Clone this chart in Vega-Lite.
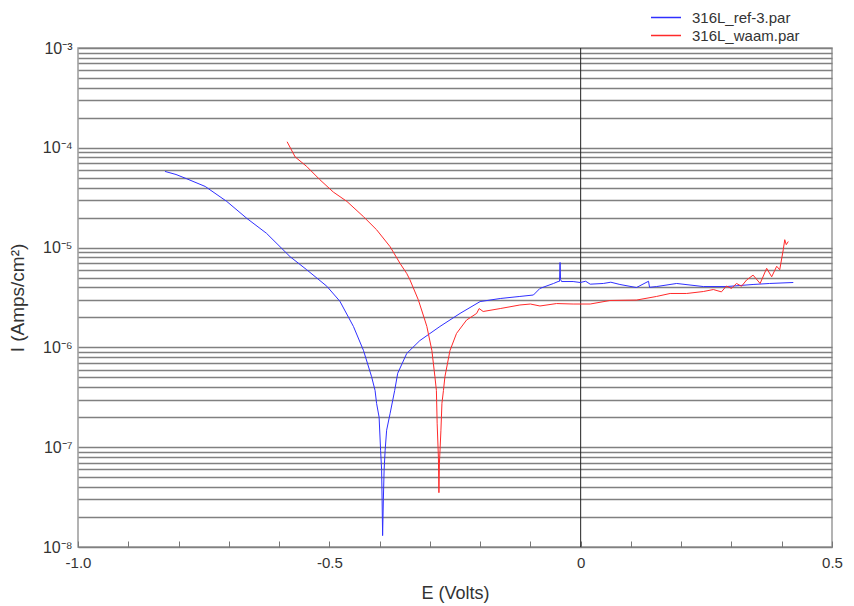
{
  "$schema": "https://vega.github.io/schema/vega-lite/v6.json",
  "width": 754,
  "height": 499,
  "autosize": {"type": "none"},
  "padding": {"left": 78, "top": 48, "right": 22, "bottom": 59},
  "config": {"font": "Liberation Sans", "view": {"stroke": "#9a9a9a", "strokeWidth": 1.5}},
  "datasets": {
    "curves": [
      {"s": "316L_ref-3.par", "i": 1, "E": -0.827, "I": 5.8e-5},
      {"s": "316L_ref-3.par", "i": 2, "E": -0.805, "I": 5.4e-5},
      {"s": "316L_ref-3.par", "i": 3, "E": -0.784, "I": 4.9e-5},
      {"s": "316L_ref-3.par", "i": 4, "E": -0.747, "I": 4.1e-5},
      {"s": "316L_ref-3.par", "i": 5, "E": -0.704, "I": 2.9e-5},
      {"s": "316L_ref-3.par", "i": 6, "E": -0.664, "I": 1.96e-5},
      {"s": "316L_ref-3.par", "i": 7, "E": -0.625, "I": 1.39e-5},
      {"s": "316L_ref-3.par", "i": 8, "E": -0.578, "I": 8.1e-6},
      {"s": "316L_ref-3.par", "i": 9, "E": -0.545, "I": 6.0e-6},
      {"s": "316L_ref-3.par", "i": 10, "E": -0.505, "I": 4.1e-6},
      {"s": "316L_ref-3.par", "i": 11, "E": -0.479, "I": 2.9e-6},
      {"s": "316L_ref-3.par", "i": 12, "E": -0.452, "I": 1.62e-6},
      {"s": "316L_ref-3.par", "i": 13, "E": -0.432, "I": 9.3e-7},
      {"s": "316L_ref-3.par", "i": 14, "E": -0.416, "I": 5.1e-7},
      {"s": "316L_ref-3.par", "i": 15, "E": -0.409, "I": 3.7e-7},
      {"s": "316L_ref-3.par", "i": 16, "E": -0.406, "I": 2.75e-7},
      {"s": "316L_ref-3.par", "i": 17, "E": -0.401, "I": 2.0e-7},
      {"s": "316L_ref-3.par", "i": 18, "E": -0.398, "I": 9.3e-8},
      {"s": "316L_ref-3.par", "i": 19, "E": -0.396, "I": 5.9e-8},
      {"s": "316L_ref-3.par", "i": 20, "E": -0.395, "I": 2.9e-8},
      {"s": "316L_ref-3.par", "i": 21, "E": -0.394, "I": 1.3e-8},
      {"s": "316L_ref-3.par", "i": 22, "E": -0.3925, "I": 3.0e-8},
      {"s": "316L_ref-3.par", "i": 23, "E": -0.391, "I": 5.9e-8},
      {"s": "316L_ref-3.par", "i": 24, "E": -0.389, "I": 9.3e-8},
      {"s": "316L_ref-3.par", "i": 25, "E": -0.386, "I": 1.48e-7},
      {"s": "316L_ref-3.par", "i": 26, "E": -0.379, "I": 2.19e-7},
      {"s": "316L_ref-3.par", "i": 27, "E": -0.370, "I": 3.7e-7},
      {"s": "316L_ref-3.par", "i": 28, "E": -0.364, "I": 5.5e-7},
      {"s": "316L_ref-3.par", "i": 29, "E": -0.346, "I": 8.7e-7},
      {"s": "316L_ref-3.par", "i": 30, "E": -0.320, "I": 1.17e-6},
      {"s": "316L_ref-3.par", "i": 31, "E": -0.280, "I": 1.62e-6},
      {"s": "316L_ref-3.par", "i": 32, "E": -0.240, "I": 2.19e-6},
      {"s": "316L_ref-3.par", "i": 33, "E": -0.200, "I": 2.88e-6},
      {"s": "316L_ref-3.par", "i": 34, "E": -0.160, "I": 3.09e-6},
      {"s": "316L_ref-3.par", "i": 35, "E": -0.121, "I": 3.24e-6},
      {"s": "316L_ref-3.par", "i": 36, "E": -0.094, "I": 3.35e-6},
      {"s": "316L_ref-3.par", "i": 37, "E": -0.081, "I": 3.9e-6},
      {"s": "316L_ref-3.par", "i": 38, "E": -0.054, "I": 4.37e-6},
      {"s": "316L_ref-3.par", "i": 39, "E": -0.045, "I": 4.57e-6},
      {"s": "316L_ref-3.par", "i": 40, "E": -0.042, "I": 4.6e-6},
      {"s": "316L_ref-3.par", "i": 41, "E": -0.041, "I": 7.1e-6},
      {"s": "316L_ref-3.par", "i": 42, "E": -0.040, "I": 4.8e-6},
      {"s": "316L_ref-3.par", "i": 43, "E": -0.038, "I": 4.57e-6},
      {"s": "316L_ref-3.par", "i": 44, "E": -0.015, "I": 4.57e-6},
      {"s": "316L_ref-3.par", "i": 45, "E": -0.001, "I": 4.47e-6},
      {"s": "316L_ref-3.par", "i": 46, "E": 0.010, "I": 4.6e-6},
      {"s": "316L_ref-3.par", "i": 47, "E": 0.019, "I": 4.3e-6},
      {"s": "316L_ref-3.par", "i": 48, "E": 0.045, "I": 4.37e-6},
      {"s": "316L_ref-3.par", "i": 49, "E": 0.060, "I": 4.5e-6},
      {"s": "316L_ref-3.par", "i": 50, "E": 0.078, "I": 4.27e-6},
      {"s": "316L_ref-3.par", "i": 51, "E": 0.111, "I": 3.98e-6},
      {"s": "316L_ref-3.par", "i": 52, "E": 0.135, "I": 4.6e-6},
      {"s": "316L_ref-3.par", "i": 53, "E": 0.137, "I": 4.0e-6},
      {"s": "316L_ref-3.par", "i": 54, "E": 0.151, "I": 4.07e-6},
      {"s": "316L_ref-3.par", "i": 55, "E": 0.191, "I": 4.37e-6},
      {"s": "316L_ref-3.par", "i": 56, "E": 0.244, "I": 4.07e-6},
      {"s": "316L_ref-3.par", "i": 57, "E": 0.290, "I": 4.07e-6},
      {"s": "316L_ref-3.par", "i": 58, "E": 0.343, "I": 4.27e-6},
      {"s": "316L_ref-3.par", "i": 59, "E": 0.376, "I": 4.37e-6},
      {"s": "316L_ref-3.par", "i": 60, "E": 0.423, "I": 4.47e-6},
      {"s": "316L_waam.par", "i": 1, "E": -0.584, "I": 1.15e-4},
      {"s": "316L_waam.par", "i": 2, "E": -0.568, "I": 8.1e-5},
      {"s": "316L_waam.par", "i": 3, "E": -0.545, "I": 6.5e-5},
      {"s": "316L_waam.par", "i": 4, "E": -0.519, "I": 4.8e-5},
      {"s": "316L_waam.par", "i": 5, "E": -0.492, "I": 3.6e-5},
      {"s": "316L_waam.par", "i": 6, "E": -0.465, "I": 2.9e-5},
      {"s": "316L_waam.par", "i": 7, "E": -0.432, "I": 2.04e-5},
      {"s": "316L_waam.par", "i": 8, "E": -0.406, "I": 1.51e-5},
      {"s": "316L_waam.par", "i": 9, "E": -0.379, "I": 1.02e-5},
      {"s": "316L_waam.par", "i": 10, "E": -0.359, "I": 6.9e-6},
      {"s": "316L_waam.par", "i": 11, "E": -0.346, "I": 5.5e-6},
      {"s": "316L_waam.par", "i": 12, "E": -0.340, "I": 4.8e-6},
      {"s": "316L_waam.par", "i": 13, "E": -0.323, "I": 3.0e-6},
      {"s": "316L_waam.par", "i": 14, "E": -0.310, "I": 1.88e-6},
      {"s": "316L_waam.par", "i": 15, "E": -0.306, "I": 1.62e-6},
      {"s": "316L_waam.par", "i": 16, "E": -0.296, "I": 9.3e-7},
      {"s": "316L_waam.par", "i": 17, "E": -0.290, "I": 5.1e-7},
      {"s": "316L_waam.par", "i": 18, "E": -0.287, "I": 3.7e-7},
      {"s": "316L_waam.par", "i": 19, "E": -0.2855, "I": 1.74e-7},
      {"s": "316L_waam.par", "i": 20, "E": -0.283, "I": 7.9e-8},
      {"s": "316L_waam.par", "i": 21, "E": -0.282, "I": 3.5e-8},
      {"s": "316L_waam.par", "i": 22, "E": -0.281, "I": 6.9e-8},
      {"s": "316L_waam.par", "i": 23, "E": -0.278, "I": 1.48e-7},
      {"s": "316L_waam.par", "i": 24, "E": -0.276, "I": 2.75e-7},
      {"s": "316L_waam.par", "i": 25, "E": -0.273, "I": 3.7e-7},
      {"s": "316L_waam.par", "i": 26, "E": -0.270, "I": 5.1e-7},
      {"s": "316L_waam.par", "i": 27, "E": -0.260, "I": 9.3e-7},
      {"s": "316L_waam.par", "i": 28, "E": -0.247, "I": 1.38e-6},
      {"s": "316L_waam.par", "i": 29, "E": -0.227, "I": 1.88e-6},
      {"s": "316L_waam.par", "i": 30, "E": -0.207, "I": 2.19e-6},
      {"s": "316L_waam.par", "i": 31, "E": -0.202, "I": 2.45e-6},
      {"s": "316L_waam.par", "i": 32, "E": -0.194, "I": 2.29e-6},
      {"s": "316L_waam.par", "i": 33, "E": -0.160, "I": 2.45e-6},
      {"s": "316L_waam.par", "i": 34, "E": -0.121, "I": 2.66e-6},
      {"s": "316L_waam.par", "i": 35, "E": -0.100, "I": 2.72e-6},
      {"s": "316L_waam.par", "i": 36, "E": -0.081, "I": 2.6e-6},
      {"s": "316L_waam.par", "i": 37, "E": -0.048, "I": 2.75e-6},
      {"s": "316L_waam.par", "i": 38, "E": -0.015, "I": 2.72e-6},
      {"s": "316L_waam.par", "i": 39, "E": 0.019, "I": 2.72e-6},
      {"s": "316L_waam.par", "i": 40, "E": 0.058, "I": 2.95e-6},
      {"s": "316L_waam.par", "i": 41, "E": 0.111, "I": 2.98e-6},
      {"s": "316L_waam.par", "i": 42, "E": 0.151, "I": 3.24e-6},
      {"s": "316L_waam.par", "i": 43, "E": 0.178, "I": 3.47e-6},
      {"s": "316L_waam.par", "i": 44, "E": 0.211, "I": 3.47e-6},
      {"s": "316L_waam.par", "i": 45, "E": 0.244, "I": 3.63e-6},
      {"s": "316L_waam.par", "i": 46, "E": 0.264, "I": 3.8e-6},
      {"s": "316L_waam.par", "i": 47, "E": 0.280, "I": 3.6e-6},
      {"s": "316L_waam.par", "i": 48, "E": 0.290, "I": 4.12e-6},
      {"s": "316L_waam.par", "i": 49, "E": 0.300, "I": 3.9e-6},
      {"s": "316L_waam.par", "i": 50, "E": 0.310, "I": 4.37e-6},
      {"s": "316L_waam.par", "i": 51, "E": 0.320, "I": 4.1e-6},
      {"s": "316L_waam.par", "i": 52, "E": 0.330, "I": 4.73e-6},
      {"s": "316L_waam.par", "i": 53, "E": 0.343, "I": 5.3e-6},
      {"s": "316L_waam.par", "i": 54, "E": 0.357, "I": 4.37e-6},
      {"s": "316L_waam.par", "i": 55, "E": 0.370, "I": 6.2e-6},
      {"s": "316L_waam.par", "i": 56, "E": 0.380, "I": 5.1e-6},
      {"s": "316L_waam.par", "i": 57, "E": 0.390, "I": 6.5e-6},
      {"s": "316L_waam.par", "i": 58, "E": 0.396, "I": 6.0e-6},
      {"s": "316L_waam.par", "i": 59, "E": 0.403, "I": 9.5e-6},
      {"s": "316L_waam.par", "i": 60, "E": 0.406, "I": 1.2e-5},
      {"s": "316L_waam.par", "i": 61, "E": 0.409, "I": 1.07e-5},
      {"s": "316L_waam.par", "i": 62, "E": 0.413, "I": 1.15e-5}
    ]
  },
  "encoding": {
    "x": {
      "field": "E",
      "type": "quantitative",
      "scale": {"domain": [-1, 0.5], "nice": false, "zero": false},
      "axis": {
        "title": "E (Volts)",
        "titleFontSize": 18,
        "titleFontWeight": "normal",
        "titleColor": "#333",
        "titlePadding": 14,
        "values": [-1, -0.9, -0.8, -0.7, -0.6, -0.5, -0.4, -0.3, -0.2, -0.1, 0, 0.1, 0.2, 0.3, 0.4, 0.5],
        "labelExpr": "datum.value == -1 ? '-1.0' : datum.value == -0.5 ? '-0.5' : datum.value == 0 ? '0' : datum.value == 0.5 ? '0.5' : ''",
        "labelFontSize": 15,
        "labelColor": "#333",
        "labelPadding": 14,
        "labelFlush": false,
        "labelOverlap": false,
        "tickSize": -6,
        "tickColor": "#777",
        "domain": false,
        "grid": false
      }
    }
  },
  "layer": [
    {
      "data": {"values": [{"E": 0}]},
      "mark": {"type": "rule", "color": "#222", "strokeWidth": 1}
    },
    {
      "data": {"name": "curves"},
      "mark": {"type": "line", "strokeWidth": 1},
      "encoding": {
        "y": {
          "field": "I",
          "type": "quantitative",
          "scale": {"type": "log", "domain": [1e-8, 1e-3], "nice": false},
          "axis": {
            "title": "I (Amps/cm²)",
            "titleFontSize": 19,
            "titleFontWeight": "normal",
            "titleColor": "#333",
            "titlePadding": 15,
            "values": [1e-8, 2e-8, 3e-8, 4e-8, 5e-8, 6e-8, 7e-8, 8e-8, 9e-8, 1e-7, 2e-7, 3e-7, 4e-7, 5e-7, 6e-7, 7e-7, 8e-7, 9e-7, 1e-6, 2e-6, 3e-6, 4e-6, 5e-6, 6e-6, 7e-6, 8e-6, 9e-6, 1e-5, 2e-5, 3e-5, 4e-5, 5e-5, 6e-5, 7e-5, 8e-5, 9e-5, 1e-4, 2e-4, 3e-4, 4e-4, 5e-4, 6e-4, 7e-4, 8e-4, 9e-4, 1e-3],
            "labelExpr": "abs(datum.value / pow(10, round(log(datum.value) / LN10)) - 1) < 1e-6 ? '10' + ['⁻⁸', '⁻⁷', '⁻⁶', '⁻⁵', '⁻⁴', '⁻³'][round(log(datum.value) / LN10) + 8] : ''",
            "labelFontSize": 16,
            "labelColor": "#333",
            "labelPadding": 6,
            "labelFlush": false,
            "labelOverlap": false,
            "ticks": false,
            "domain": false,
            "grid": true,
            "gridColor": "#808080",
            "gridWidth": 1.3
          }
        },
        "color": {
          "field": "s",
          "type": "nominal",
          "scale": {"domain": ["316L_ref-3.par", "316L_waam.par"], "range": ["#3030ff", "#ff2a2a"]},
          "legend": {
            "title": null,
            "orient": "none",
            "legendX": 572,
            "legendY": -38,
            "symbolType": "stroke",
            "symbolStrokeWidth": 1.5,
            "symbolSize": 900,
            "symbolOpacity": 1,
            "clipHeight": 15,
            "labelFontSize": 15,
            "labelColor": "#333",
            "labelOffset": 10,
            "rowPadding": 2
          }
        },
        "order": {"field": "i", "type": "quantitative"}
      }
    }
  ]
}
